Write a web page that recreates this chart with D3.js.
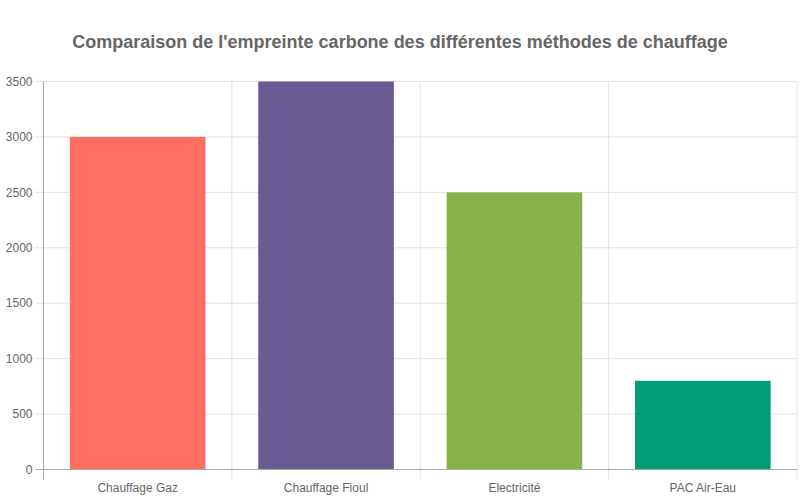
<!DOCTYPE html>
<html>
<head>
<meta charset="utf-8">
<script src="https://cdn.jsdelivr.net/npm/d3@7"></script>
<style>
  body { margin: 0; background: #fff; }
  svg { font-family: "Liberation Sans", Arial, Helvetica, sans-serif; }
</style>
</head>
<body>
<div id="chart"></div>
<script>
const categories = ['Chauffage Gaz', 'Chauffage Fioul', 'Electricité', 'PAC Air-Eau'];
const values = [3000, 3500, 2500, 800];
const colors = ['#FF6F61', '#6B5B95', '#88B04B', '#009B77'];
const yTicks = [0, 500, 1000, 1500, 2000, 2500, 3000, 3500];

const W = 800, H = 500;
const margin = { top: 81.5, right: 3, bottom: 30.5, left: 43.5 };
const width = W - margin.left - margin.right;
const height = H - margin.top - margin.bottom;

const svg = d3.select('#chart').append('svg')
  .attr('width', W)
  .attr('height', H);

svg.append('text')
  .attr('x', W / 2)
  .attr('y', 48)
  .attr('text-anchor', 'middle')
  .attr('font-size', 18)
  .attr('font-weight', 'bold')
  .attr('fill', '#666')
  .text("Comparaison de l'empreinte carbone des différentes méthodes de chauffage");

const g = svg.append('g')
  .attr('transform', `translate(${margin.left}, ${margin.top})`);

const x = d3.scaleBand()
  .domain(categories)
  .range([0, width]);

const y = d3.scaleLinear()
  .domain([0, 3500])
  .range([height, 0]);

// horizontal grid
g.selectAll('.hgrid')
  .data(yTicks)
  .enter().append('line')
  .attr('x1', -8)
  .attr('x2', width)
  .attr('y1', d => y(d))
  .attr('y2', d => y(d))
  .attr('stroke', d => d === 0 ? '#aaa' : '#e2e2e2')
  .attr('stroke-width', 1);

// vertical grid at band boundaries
const bounds = categories.map(c => x(c)).concat([width]);
g.selectAll('.vgrid')
  .data(bounds)
  .enter().append('line')
  .attr('x1', d => d)
  .attr('x2', d => d)
  .attr('y1', 0)
  .attr('y2', height + 10)
  .attr('stroke', (d, i) => i === 0 ? '#aaa' : '#e2e2e2')
  .attr('stroke-width', 1);

// y labels
g.selectAll('.ylab')
  .data(yTicks)
  .enter().append('text')
  .attr('x', -11)
  .attr('y', d => y(d))
  .attr('dy', '0.35em')
  .attr('text-anchor', 'end')
  .attr('font-size', 12)
  .attr('fill', '#666')
  .text(d => d);

// bars
const inner = x.bandwidth() * 0.72;
g.selectAll('.bar')
  .data(values)
  .enter().append('rect')
  .attr('x', (d, i) => x(categories[i]) + (x.bandwidth() - inner) / 2)
  .attr('y', d => y(d))
  .attr('width', inner)
  .attr('height', d => height - y(d))
  .attr('fill', (d, i) => colors[i]);

// redraw axis lines on top
g.append('line')
  .attr('x1', 0).attr('x2', width)
  .attr('y1', height).attr('y2', height)
  .attr('stroke', '#aaa');

// x labels
g.selectAll('.xlab')
  .data(categories)
  .enter().append('text')
  .attr('x', d => x(d) + x.bandwidth() / 2)
  .attr('y', height + 22)
  .attr('text-anchor', 'middle')
  .attr('font-size', 12)
  .attr('fill', '#666')
  .text(d => d);
</script>
</body>
</html>
